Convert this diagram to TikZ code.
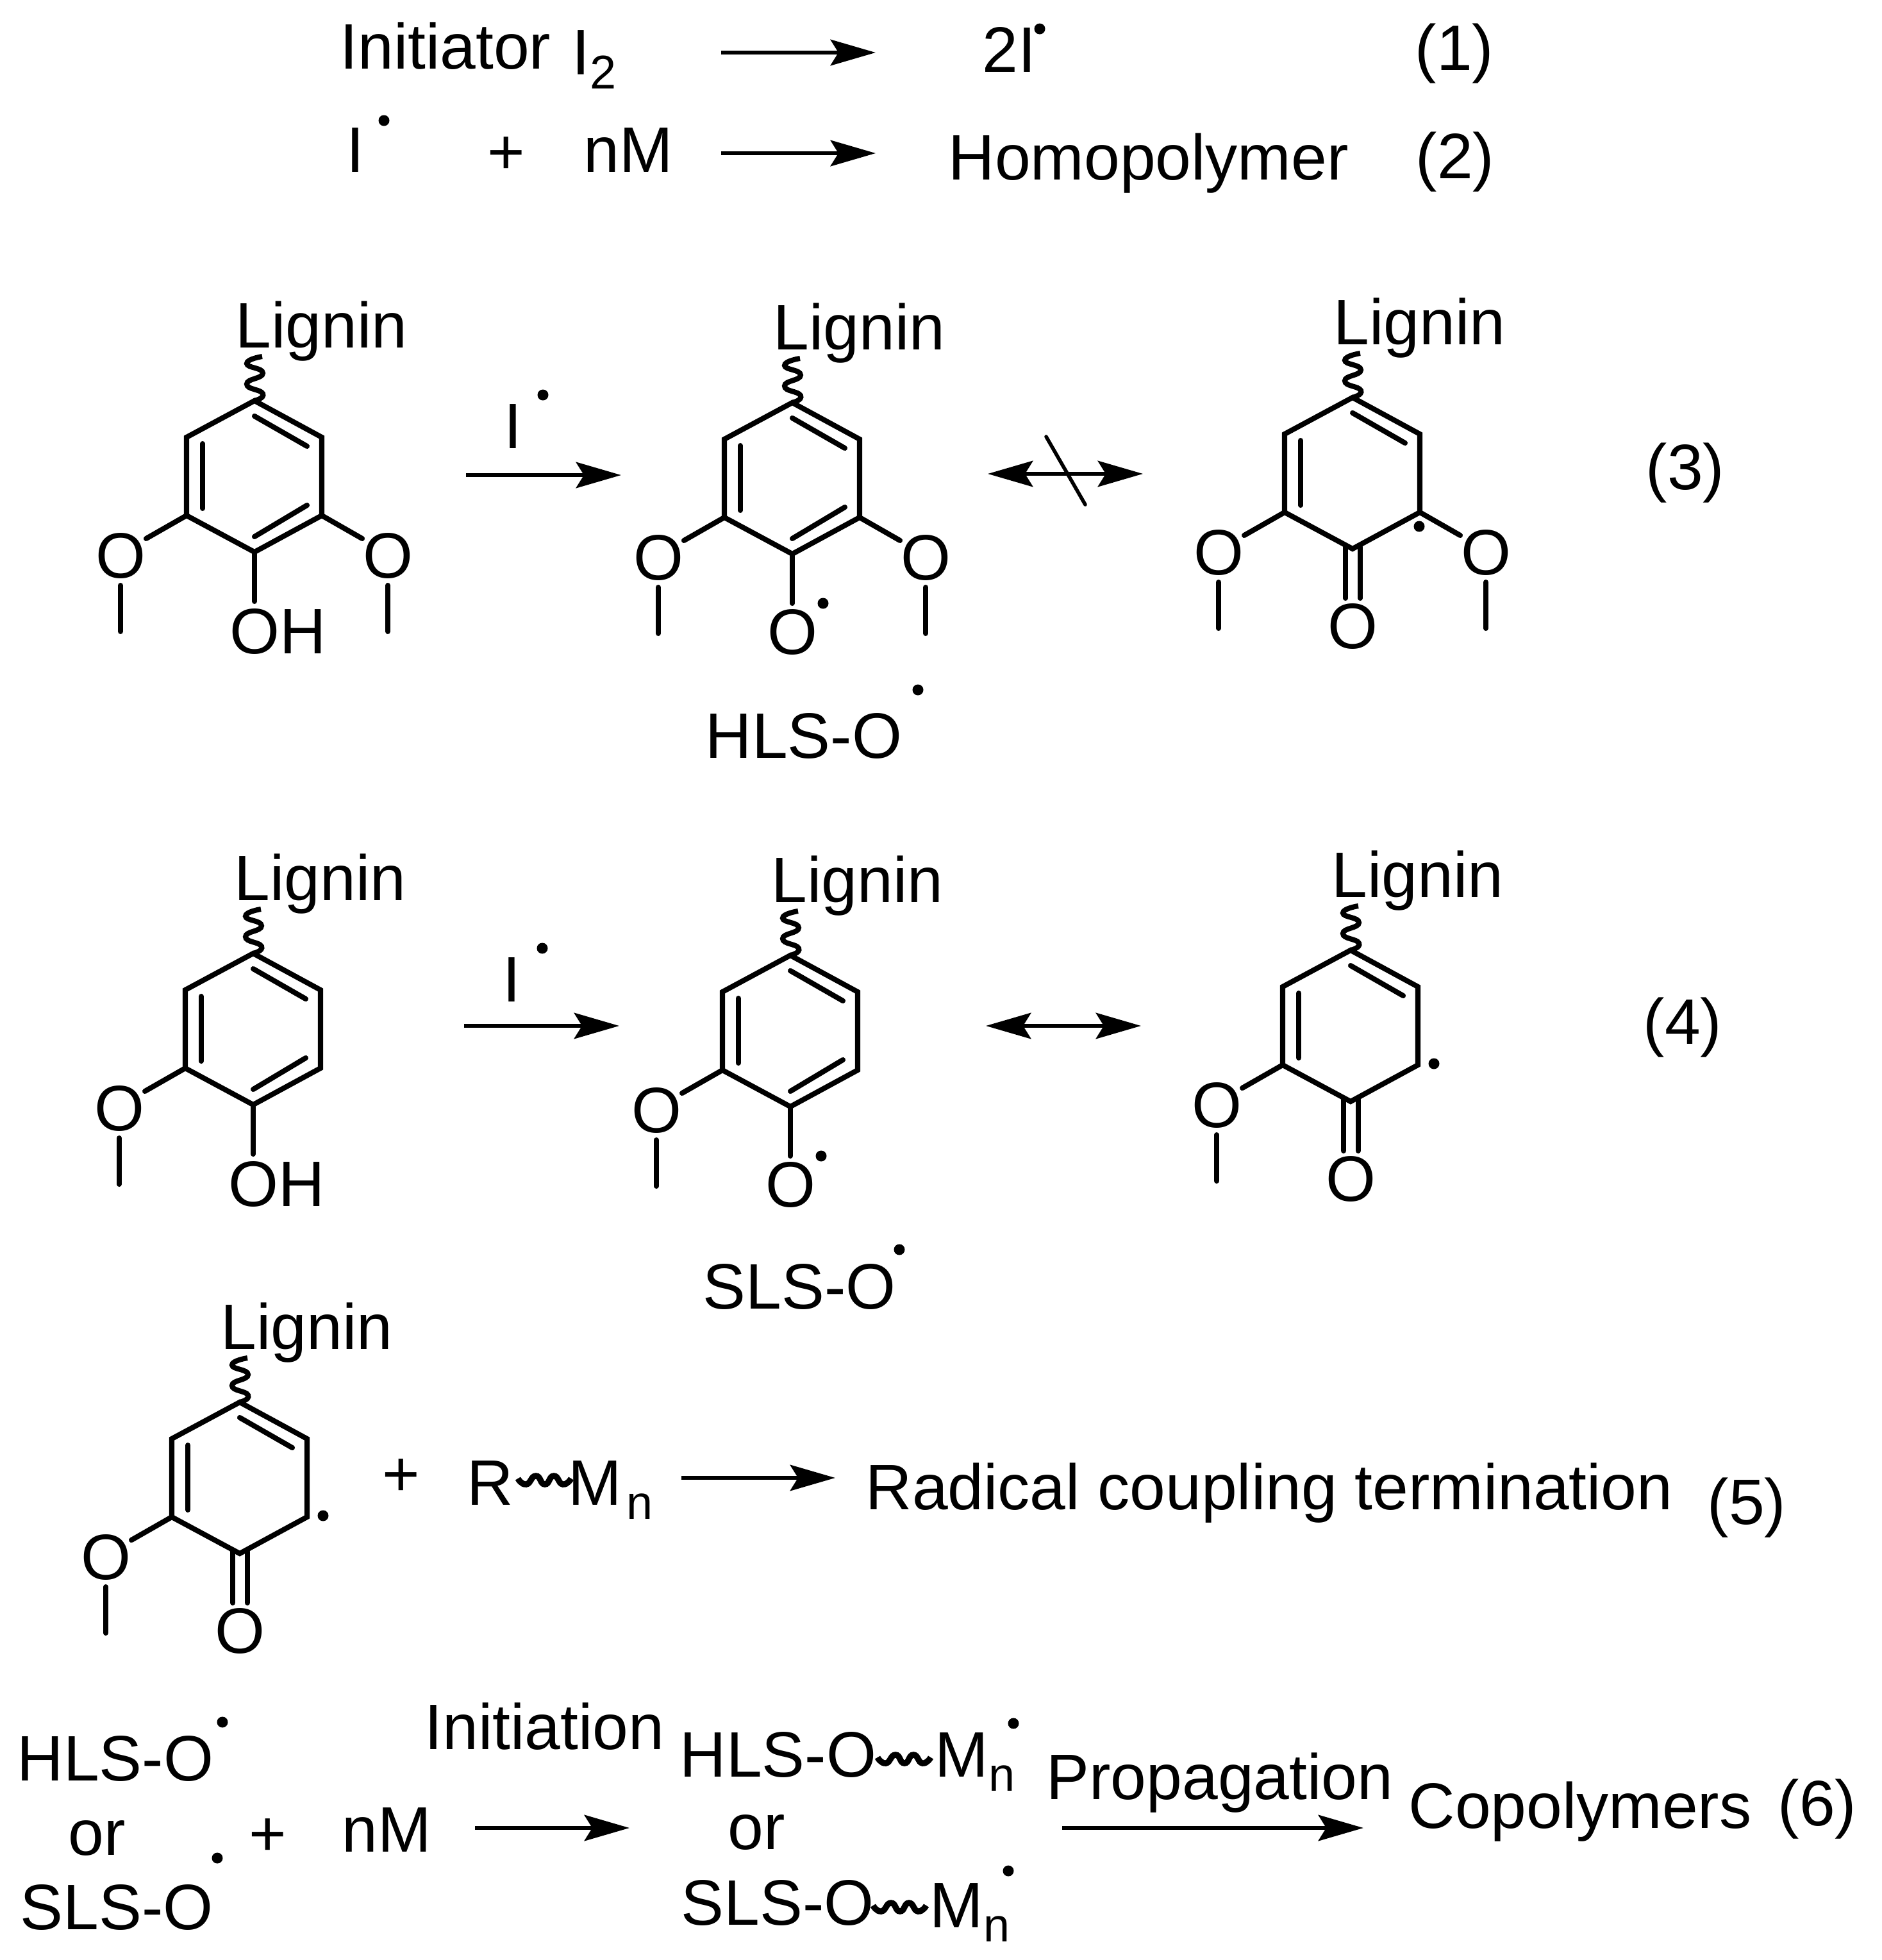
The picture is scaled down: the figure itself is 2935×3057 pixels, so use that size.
\documentclass[tikz,border=0pt]{standalone}
\usepackage{fontspec}
\setmainfont{Liberation Sans}
\usetikzlibrary{arrows.meta}

\tikzset{
  lbl/.style={anchor=base west,inner sep=0pt,font=\fontsize{28.5}{34}\selectfont},
  bond/.style={line width=2.3pt,line cap=round,line join=miter},
  rxn/.style={line width=1.8pt,-{Stealth[length=20pt,width=11.5pt,inset=3.5pt]}},
  eqm/.style={line width=1.8pt,{Stealth[length=20pt,width=11.5pt,inset=3.5pt]}-{Stealth[length=20pt,width=11.5pt,inset=3.5pt]}}
}
\newcommand{\subtxt}[1]{\raisebox{-0.22em}{\fontsize{21}{24}\selectfont #1}}
\newcommand{\raddot}[2]{\fill (#1,#2) circle (8.5);}
\newcommand{\wavy}[2]{\draw[line width=2.7pt,shift={(#1,#2)}] plot[smooth,tension=1] coordinates {(0,-2) (13,7) (28,-6) (42,7) (56,-6) (70,7) (83,-2)};}
% ring with lignin arm, left methoxy and two inner lines
\newcommand{\ringbody}[1]{
  \draw[bond] (0,3) -- (-106,60) -- (-106,182) -- (0,239) -- (105,182) -- (105,60) -- cycle;
  \draw[bond] (-81,70) -- (-81,171);
  \draw[bond] (0,27) -- (82,74);
  \draw[line width=2.3pt] plot[smooth,tension=1] coordinates {(0,3) (13,-8) (-12,-23) (13,-40) (-12,-55) (12,-66)};
  \node[lbl] (#1lig) at (-30,-80) {Lignin};
  \draw[bond] (-106,182) -- (-169,218);
  \node[lbl,anchor=base] (#1ol) at (-209,279) {O};
  \draw[bond] (-209,291) -- (-209,363);
}
\newcommand{\rightome}[1]{
  \draw[bond] (105,182) -- (168,218);
  \node[lbl,anchor=base] (#1or) at (208,279) {O};
  \draw[bond] (208,291) -- (208,363);
}
\newcommand{\lowerinner}{\draw[bond] (82,166) -- (0,215);}
\newcommand{\ketone}[1]{
  \draw[bond] (-11,236) -- (-11,316);
  \draw[bond] (12,236) -- (12,316);
  \node[lbl,anchor=base] (#1ox) at (0,394) {O};
}
\newcommand{\phenol}[1]{
  \draw[bond] (0,239) -- (0,316);
  \node[lbl] (#1oh) at (-39,397) {OH};
}
\newcommand{\oxyl}[1]{
  \draw[bond] (0,239) -- (0,316);
  \node[lbl,anchor=base] (#1ox) at (0,395) {O};
  \raddot{48}{316}
}

\begin{document}
\begin{tikzpicture}[x=0.01cm,y=-0.01cm]
  \useasboundingbox (0,0) rectangle (2935,3057);

  % reactions 1 and 2
  \node[lbl] (init) at (530,107) {Initiator};
  \node[lbl] (itwo) at (892,116) {I\subtxt{2}};
  \coordinate (a1s) at (1125,82);
  \coordinate (a1e) at (1366,82);
  \draw[rxn] (a1s) -- (a1e);
  \node[lbl] (twoi) at (1532,112) {2I};
  \raddot{1622}{45}
  \node[lbl] (r1) at (2207,109) {(1)};

  \node[lbl] (irad) at (540,268) {I};
  \raddot{599}{188}
  \node[lbl,anchor=center] (plusa) at (790,243) {+};
  \node[lbl] (nma) at (910,268) {nM};
  \coordinate (a2s) at (1125,239);
  \coordinate (a2e) at (1366,239);
  \draw[rxn] (a2s) -- (a2e);
  \node[lbl] (homo) at (1479,280) {Homopolymer};
  \node[lbl] (r2) at (2208,278) {(2)};

  % reaction 3
  \begin{scope}[shift={(397,622)}]
    \ringbody{a}
    \rightome{a}
    \lowerinner
    \phenol{a}
  \end{scope}
  \coordinate (a3s) at (727,741);
  \coordinate (a3e) at (969,741);
  \draw[rxn] (a3s) -- (a3e);
  \node[lbl] (ia) at (786,699) {I};
  \raddot{847}{616}
  \begin{scope}[shift={(1236,625)}]
    \ringbody{b}
    \rightome{b}
    \lowerinner
    \oxyl{b}
  \end{scope}
  \node[lbl] (hlsa) at (1100,1182) {HLS-O};
  \raddot{1432}{1076}
  \coordinate (b3s) at (1541,739);
  \coordinate (b3e) at (1783,739);
  \draw[eqm] (b3s) -- (b3e);
  \coordinate (c3s) at (1632,681);
  \coordinate (c3e) at (1693,787);
  \draw[line width=1.6pt,line cap=round] (c3s) -- (c3e);
  \begin{scope}[shift={(2110,617)}]
    \ringbody{c}
    \rightome{c}
    \ketone{c}
    \raddot{104}{204}
  \end{scope}
  \node[lbl] (r3) at (2567,763) {(3)};

  % reaction 4
  \begin{scope}[shift={(395,1484)}]
    \ringbody{d}
    \lowerinner
    \phenol{d}
  \end{scope}
  \coordinate (a4s) at (724,1600);
  \coordinate (a4e) at (966,1600);
  \draw[rxn] (a4s) -- (a4e);
  \node[lbl] (ib) at (784,1562) {I};
  \raddot{846}{1479}
  \begin{scope}[shift={(1233,1487)}]
    \ringbody{e}
    \lowerinner
    \oxyl{e}
  \end{scope}
  \node[lbl] (slsa) at (1096,2041) {SLS-O};
  \raddot{1403}{1949}
  \coordinate (b4s) at (1538,1600);
  \coordinate (b4e) at (1780,1600);
  \draw[eqm] (b4s) -- (b4e);
  \begin{scope}[shift={(2107,1479)}]
    \ringbody{f}
    \ketone{f}
    \raddot{130}{180}
  \end{scope}
  \node[lbl] (r4) at (2563,1628) {(4)};

  % reaction 5
  \begin{scope}[shift={(374,2184)}]
    \ringbody{g}
    \ketone{g}
    \raddot{130}{180}
  \end{scope}
  \node[lbl,anchor=center] (plusb) at (626,2305) {+};
  \node[lbl] (rr) at (728,2347) {R};
  \node[lbl] (mma) at (886,2347) {M\kern2pt\subtxt{n}};
  \wavy{808}{2308}
  \coordinate (a5s) at (1063,2305);
  \coordinate (a5e) at (1303,2305);
  \draw[rxn] (a5s) -- (a5e);
  \node[lbl] (term) at (1350,2354) {Radical coupling termination};
  \node[lbl] (r5) at (2663,2377) {(5)};

  % reaction 6
  \node[lbl] (hlsb) at (26,2777) {HLS-O};
  \raddot{347}{2686}
  \node[lbl] (orl) at (106,2893) {or};
  \node[lbl] (slsb) at (31,3009) {SLS-O};
  \raddot{339}{2898}
  \node[lbl,anchor=center] (plusc) at (418,2866) {+};
  \node[lbl] (nmb) at (533,2888) {nM};
  \coordinate (a6s) at (741,2851);
  \coordinate (a6e) at (982,2851);
  \draw[rxn] (a6s) -- (a6e);
  \node[lbl] (inita) at (662,2728) {Initiation};
  \node[lbl] (hlsc) at (1060,2771) {HLS-O};
  \wavy{1369}{2743}
  \node[lbl] (mmb) at (1458,2771) {M\subtxt{n}};
  \raddot{1581}{2688}
  \node[lbl] (orr) at (1135,2884) {or};
  \node[lbl] (slsc) at (1062,3002) {SLS-O};
  \wavy{1362}{2974}
  \node[lbl] (mmc) at (1450,3006) {M\subtxt{n}};
  \raddot{1573}{2918}
  \node[lbl] (prop) at (1632,2806) {Propagation};
  \coordinate (b6s) at (1657,2851);
  \coordinate (b6e) at (2127,2851);
  \draw[rxn] (b6s) -- (b6e);
  \node[lbl] (copo) at (2197,2851) {Copolymers};
  \node[lbl] (r6) at (2773,2847) {(6)};
\end{tikzpicture}
\end{document}
